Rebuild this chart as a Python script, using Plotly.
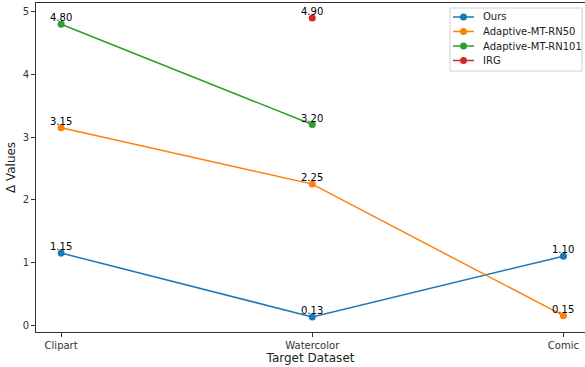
import plotly.graph_objects as go

categories = ["Clipart", "Watercolor", "Comic"]
ours = [1.15, 0.13, 1.10]
rn50 = [3.15, 2.25, 0.15]
rn101 = [4.80, 3.20, None]
irg = [None, 4.90, None]

series = [
    ("Ours", ours, "#1f77b4"),
    ("Adaptive-MT-RN50", rn50, "#ff7f0e"),
    ("Adaptive-MT-RN101", rn101, "#2ca02c"),
    ("IRG", irg, "#d62728"),
]

W, H = 585, 367
ML, MR, MT, MB = 36, 0, 3, 35
PW, PH = W - ML - MR, H - MT - MB


def px(p):
    return (p - ML) / PW


def py(p):
    return 1 - (p - MT) / PH


font = "DejaVu Sans, sans-serif"
fig = go.Figure()
for name, vals, color in series:
    xs = list(range(len(categories)))
    fig.add_trace(go.Scatter(
        x=xs, y=vals, name=name,
        mode="lines+markers",
        line=dict(color=color, width=1.5),
        marker=dict(color=color, size=7),
        connectgaps=False, showlegend=False,
    ))
    for xi, v in zip(xs, vals):
        if v is None:
            continue
        fig.add_annotation(
            x=xi, y=v, text=f"{v:.2f}", showarrow=False,
            yanchor="bottom", yshift=-1,
            font=dict(size=10, color="black", family=font),
        )

# legend box (custom, matplotlib-like)
fig.add_shape(type="rect", xref="paper", yref="paper",
              x0=px(450), x1=px(582), y0=py(71), y1=py(8),
              line=dict(color="#d0d0d0", width=1), fillcolor="rgba(255,255,255,0.8)",
              layer="above")
row_y = [17, 31.5, 46, 60.5]
for (name, vals, color), ry in zip(series, row_y):
    fig.add_shape(type="line", xref="paper", yref="paper",
                  x0=px(453), x1=px(474), y0=py(ry), y1=py(ry),
                  line=dict(color=color, width=1.5), layer="above")
    fig.add_shape(type="circle", xref="paper", yref="paper",
                  xsizemode="pixel", ysizemode="pixel",
                  xanchor=px(463.5), yanchor=py(ry),
                  x0=-3.5, x1=3.5, y0=-3.5, y1=3.5,
                  line=dict(color=color, width=0), fillcolor=color, layer="above")
    fig.add_annotation(xref="paper", yref="paper", x=px(481), y=py(ry),
                       text=name, showarrow=False, xanchor="left", yanchor="middle",
                       font=dict(size=10, color="#222", family=font))

fig.update_layout(
    width=W, height=H,
    margin=dict(l=ML, r=MR, t=MT, b=MB),
    plot_bgcolor="white", paper_bgcolor="white",
    font=dict(family=font, size=10, color="#333"),
    showlegend=False,
    xaxis=dict(
        range=[-0.1, 2.086], tickmode="array", tickvals=list(range(len(categories))),
        ticktext=categories, showgrid=False, zeroline=False,
        showline=True, linecolor="#333", linewidth=1, mirror=True,
        ticks="outside", ticklen=4, tickcolor="#333",
        title=dict(text="Target Dataset", font=dict(size=12, color="#222"), standoff=2),
    ),
    yaxis=dict(
        range=[-0.11, 5.14], tickvals=[0, 1, 2, 3, 4, 5], showgrid=False, zeroline=False,
        showline=True, linecolor="#333", linewidth=1, mirror=False,
        ticks="outside", ticklen=4, tickcolor="#333",
        title=dict(text="Δ Values", font=dict(size=12, color="#222"), standoff=4),
    ),
)

fig.write_html("out.html", config={"displayModeBar": False},
               post_script="document.body.style.margin='0';document.body.style.overflow='hidden';")
